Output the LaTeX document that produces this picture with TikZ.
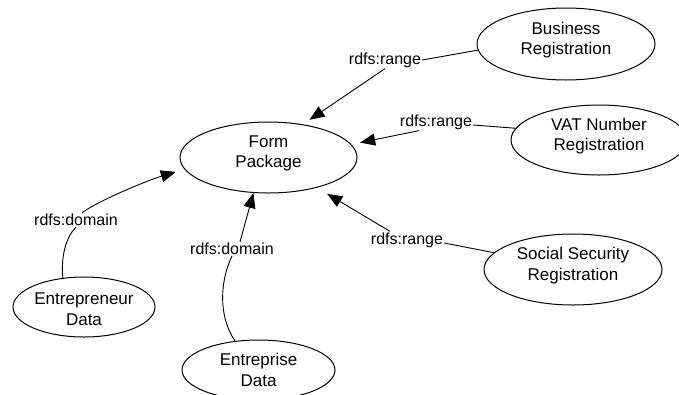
\documentclass[tikz,border=0pt]{standalone}
\usepackage{fontspec}
\setmainfont{Liberation Sans}
\usetikzlibrary{shapes.geometric,arrows.meta}

\newcommand\entityfont{\fontsize{17pt}{20.5pt}\selectfont}
\newcommand\relfont{\fontsize{16pt}{19pt}\selectfont}

\tikzset{
  entity/.style={draw, ellipse, line width=1pt, inner sep=0pt},
  etext/.style={font=\entityfont, align=center, inner sep=0pt},
  rel/.style={font=\relfont, inner sep=1pt},
  link/.style={line width=0.9pt},
  arr/.style={link, -{Triangle[length=15pt,width=12pt]}},
}

\begin{document}
\begin{tikzpicture}[x=1pt,y=-1pt]
\useasboundingbox (0,0) rectangle (679,394);
\fill[white] (0,0) rectangle (679,394);
\clip (0,0) rectangle (679,394);

% concepts
\node[entity, minimum width=177pt, minimum height=71pt,
      label={[etext,yshift=4pt]center:{Form\\Package}}] (form) at (268.5,157.5) {};
\node[entity, minimum width=178pt, minimum height=72pt,
      label={[etext,yshift=4pt]center:{Business\\Registration}}] (bus) at (566,44) {};
\node[entity, minimum width=176pt, minimum height=70pt,
      label={[etext,yshift=4pt]center:{VAT Number\\Registration}}] (vat) at (599,140) {};
\node[entity, minimum width=178pt, minimum height=71pt,
      label={[etext,yshift=4pt]center:{Social Security\\Registration}}] (soc) at (573,269.5) {};
\node[entity, minimum width=142pt, minimum height=60pt,
      label={[etext,yshift=-2pt]center:{Entrepreneur\\Data}}] (ent) at (84,307) {};
\node[entity, minimum width=153pt, minimum height=60pt,
      label={[etext]center:{Entreprise\\Data}}] (epr) at (258.5,370) {};

% property labels
\node[rel] (lbus) at (385,60) {rdfs:range};
\node[rel] (lvat) at (436,122) {rdfs:range};
\node[rel] (lsoc) at (407,240) {rdfs:range};
\node[rel] (lent) at (76,220) {rdfs:domain};
\node[rel] (lepr) at (232,249) {rdfs:domain};

% range links
\draw[link] (bus.184) -- (lbus.east);
\draw[arr, shorten >=8pt] (lbus.south) -- (form.44);

\draw[link] (vat.172) -- ([yshift=-3pt]lvat.east);
\draw[arr, shorten >=9pt] ([xshift=-17pt]lvat.south) -- (form.9.5);

\draw[link] (soc.168) -- ([yshift=-3pt]lsoc.east);
\draw[arr, shorten >=12pt] ([xshift=-17pt]lsoc.north) -- (form.-32.7);

% domain links
\draw[link] (ent.126) .. controls +(-2,-22) and +(-10,10) .. (lent.south);
\draw[arr, shorten >=9pt] ([xshift=6pt]lent.north) .. controls +(12,-10) and +(-40,12) .. (form.188);

\draw[link] (epr.129.5) .. controls +(-17,-25) and +(-12,25) .. (lepr.south);
\draw[arr] ([xshift=8pt]lepr.north) -- (form.247);
\end{tikzpicture}
\end{document}
